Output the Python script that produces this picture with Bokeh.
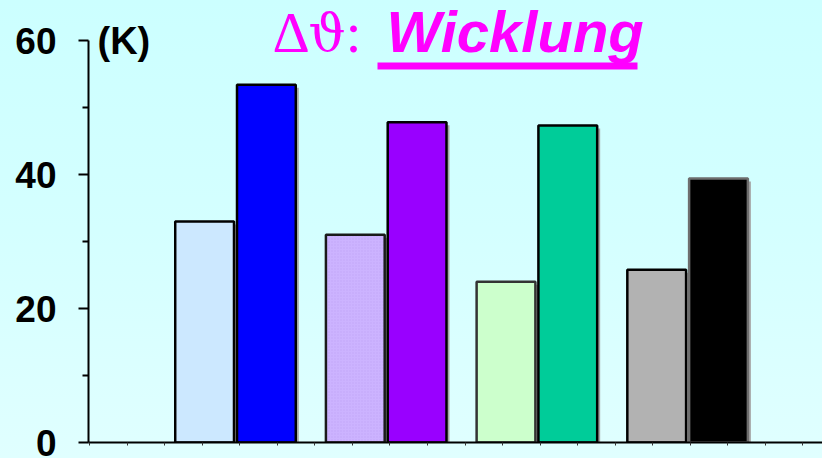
from bokeh.plotting import figure
from bokeh.models import Range1d, FixedTicker, Label, BoxAnnotation, ColumnDataSource
from bokeh.embed import file_html
from bokeh.resources import INLINE

# ---- data ----
group_pos = [1, 2, 3, 4]
before_vals = [33.0, 31.0, 24.0, 25.8]
after_vals = [53.4, 47.8, 47.3, 39.4]
before_colors = ["#CCE8FF", "#CCB3FF", "#CCFFCC", "#B2B2B2"]
after_colors = ["#0000FF", "#9900FF", "#00CC99", "#000000"]
before_lines = ["#000000", "#1A1A1A", "#333333", "#000000"]
after_lines = ["#000000", "#000000", "#000000", "#6E6E6E"]
before_hatch = [" ", "dot", " ", " "]
y_ticks = [0, 20, 40, 60]
title_delta = "Δ"
title_theta = "ϑ"
title_colon = ":"
title_word = "Wicklung"
unit_label = "(K)"

# ---- geometry helpers (styling only) ----
W, H = 822, 458
LEFT, AXIS_TOP, BOTTOM = 88, 40, 16
PX_PER_X = 150.7
X0 = 1 - (235 - LEFT) / PX_PER_X
X1 = X0 + (W - LEFT) / PX_PER_X
PX_PER_Y = (H - BOTTOM - AXIS_TOP) / 60.0
Y1 = 60 + AXIS_TOP / PX_PER_Y

def px_x(px):
    return X0 + (px - LEFT) / PX_PER_X

def px_y(py):
    return (H - BOTTOM - py) / PX_PER_Y

OFF = 0.205
BW = 0.39
SHX = 3 / PX_PER_X
SHY = 3 / PX_PER_Y

src_b = ColumnDataSource(dict(
    x=[g - OFF for g in group_pos], top=before_vals,
    color=before_colors, line=before_lines, hatch=before_hatch,
    sx=[g - OFF + SHX for g in group_pos], stop=[v - SHY for v in before_vals],
))
src_a = ColumnDataSource(dict(
    x=[g + OFF for g in group_pos], top=after_vals,
    color=after_colors, line=after_lines,
    sx=[g + OFF + SHX for g in group_pos], stop=[v - SHY for v in after_vals],
))

p = figure(width=W, height=H, output_backend="svg", toolbar_location=None,
           x_range=Range1d(X0, X1), y_range=Range1d(0, Y1),
           min_border_left=LEFT, min_border_right=0,
           min_border_top=0, min_border_bottom=BOTTOM)
p.border_fill_alpha = 0
p.background_fill_alpha = 0
p.outline_line_color = None
p.stylesheets = [":host { background: linear-gradient(to bottom, #CCFFFF 0%, #D4FFFF 50%, #E0FFFF 100%); }"]
p.grid.visible = False

# shadows
for src in (src_b, src_a):
    p.vbar(x="sx", top="stop", bottom=0, width=BW, source=src,
           fill_color="#A6A6A6", line_color=None)

p.vbar(x="x", top="top", bottom=0, width=BW, source=src_b,
       fill_color="color", line_color="line", line_width=2.5,
       hatch_pattern="hatch", hatch_color="#A98BE8", hatch_alpha=0.3,
       hatch_scale=3, hatch_weight=1)
p.vbar(x="x", top="top", bottom=0, width=BW, source=src_a,
       fill_color="color", line_color="line", line_width=2.5)

# y axis
ya = p.yaxis[0]
ya.ticker = FixedTicker(ticks=y_ticks, minor_ticks=[10, 30, 50])
ya.bounds = (0, 60)
ya.axis_line_width = 2
ya.axis_line_color = "#000000"
ya.major_tick_out = 10
ya.major_tick_in = 0
ya.major_tick_line_width = 2
ya.minor_tick_out = 6
ya.minor_tick_in = 0
ya.minor_tick_line_width = 2
ya.major_label_text_font = "Liberation Sans"
ya.major_label_text_font_style = "bold"
ya.major_label_text_font_size = "37px"
ya.major_label_text_color = "#000000"
ya.major_label_standoff = 22

# x axis
xa = p.xaxis[0]
xa.ticker = FixedTicker(ticks=[px_x(89 + 37.55 * k) for k in range(20)], minor_ticks=[])
xa.axis_line_width = 2
xa.axis_line_color = "#000000"
xa.major_tick_out = 3
xa.major_tick_in = 0
xa.major_tick_line_width = 1
xa.major_tick_line_color = "#333333"
xa.major_label_text_font_size = "1px"
xa.major_label_text_alpha = 0
xa.major_label_standoff = 0

# texts
def add_text(txt, px, py, font, size, color, style="normal"):
    p.add_layout(Label(x=px_x(px), y=px_y(py), text=txt,
                       text_font=font, text_font_style=style,
                       text_font_size=size, text_color=color,
                       text_baseline="alphabetic", text_align="left"))

add_text(unit_label, 97, 40, "Liberation Sans", "38px", "#000000", "bold")
add_text(title_delta, 272, 32, "Liberation Serif", "58px", "#FF00FF")
add_text(title_theta, 308, 32, "DejaVu Serif", "52px", "#FF00FF")
add_text(title_colon, 345, 32, "Liberation Serif", "58px", "#FF00FF")
add_text(title_word, 386, 31, "Liberation Sans", "58px", "#FF00FF", "bold italic")
p.add_layout(BoxAnnotation(left=px_x(377), right=px_x(637), top=px_y(62), bottom=px_y(69),
                           fill_color="#FF00FF", fill_alpha=1, line_color=None))

open("out.html", "w").write(file_html(p, INLINE))
